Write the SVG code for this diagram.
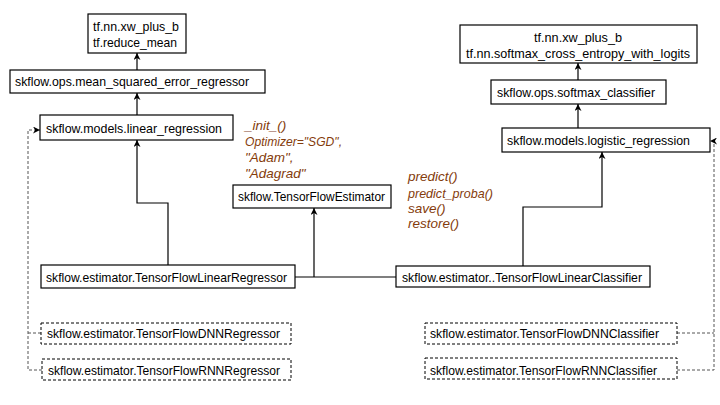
<svg xmlns="http://www.w3.org/2000/svg" width="720" height="405" viewBox="0 0 720 405">
<style>
.b{fill:#fff;stroke:#000;stroke-width:1.2}
.d{fill:#fff;stroke:#000;stroke-width:1;stroke-dasharray:3,2}
.t{font-family:"Liberation Sans",Arial,sans-serif;font-size:13.5px;fill:#000}
.i{font-family:"Liberation Sans",Arial,sans-serif;font-size:13.5px;font-style:italic;fill:#843C0C}
.c{fill:none;stroke:#000;stroke-width:1.2}
.cd{fill:none;stroke:#555;stroke-width:1;stroke-dasharray:3,2}
</style>
<defs>
<marker id="a" viewBox="0 0 10 10" refX="10" refY="5" markerWidth="7" markerHeight="7" orient="auto" markerUnits="userSpaceOnUse">
<path d="M0,0 L10,5 L0,10 L3,5 z" fill="#000"/>
</marker>
</defs>
<rect width="720" height="405" fill="#fff"/>
<g id="connectors">
<line class="c" x1="137" y1="70" x2="137" y2="53" marker-end="url(#a)"/>
<line class="c" x1="137" y1="115" x2="137" y2="93" marker-end="url(#a)"/>
<polyline class="c" points="168,265 168,203 137,203 137,140" marker-end="url(#a)"/>
<line class="c" x1="578" y1="80" x2="578" y2="63" marker-end="url(#a)"/>
<line class="c" x1="578" y1="128" x2="578" y2="104" marker-end="url(#a)"/>
<polyline class="c" points="523,266 523,207 602,207 602,152" marker-end="url(#a)"/>
<line class="c" x1="295" y1="277" x2="396" y2="277"/>
<line class="c" x1="314" y1="277" x2="314" y2="208" marker-end="url(#a)"/>
<polyline class="cd" points="41,333 28,333"/>
<polyline class="cd" points="42,370 28,370 28,130 40,130" marker-end="url(#a)"/>
<polyline class="cd" points="677,333 714,333"/>
<polyline class="cd" points="677,370 714,370 714,141 710,141" marker-end="url(#a)"/>
</g>
<g id="n_tf_reg">
<rect class="b" x="88" y="14" width="98" height="39"/>
<text class="t" x="93" y="31" textLength="86" lengthAdjust="spacingAndGlyphs">tf.nn.xw_plus_b</text>
<text class="t" x="93" y="47" textLength="84" lengthAdjust="spacingAndGlyphs">tf.reduce_mean</text>
</g>
<g id="n_mse">
<rect class="b" x="10" y="70" width="255" height="23"/>
<text class="t" x="15" y="86" textLength="234" lengthAdjust="spacingAndGlyphs">skflow.ops.mean_squared_error_regressor</text>
</g>
<g id="n_linreg">
<rect class="b" x="40" y="115" width="193" height="25"/>
<text class="t" x="46" y="133" textLength="176" lengthAdjust="spacingAndGlyphs">skflow.models.linear_regression</text>
</g>
<g id="n_notes_init">
<text class="i" x="245" y="130">_init_()</text>
<text class="i" x="245" y="146" textLength="97" lengthAdjust="spacingAndGlyphs">Optimizer="SGD",</text>
<text class="i" x="245" y="162">"Adam",</text>
<text class="i" x="245" y="178">"Adagrad"</text>
</g>
<g id="n_tf_cls">
<rect class="b" x="460" y="25" width="237" height="38"/>
<text class="t" x="578" y="42" text-anchor="middle" textLength="88" lengthAdjust="spacingAndGlyphs">tf.nn.xw_plus_b</text>
<text class="t" x="578" y="58" text-anchor="middle" textLength="224" lengthAdjust="spacingAndGlyphs">tf.nn.softmax_cross_entropy_with_logits</text>
</g>
<g id="n_softmax">
<rect class="b" x="491" y="80" width="175" height="24"/>
<text class="t" x="497" y="97" textLength="158" lengthAdjust="spacingAndGlyphs">skflow.ops.softmax_classifier</text>
</g>
<g id="n_logreg">
<rect class="b" x="502" y="128" width="208" height="24"/>
<text class="t" x="507" y="145" textLength="183" lengthAdjust="spacingAndGlyphs">skflow.models.logistic_regression</text>
</g>
<g id="n_notes_predict">
<text class="i" x="408" y="181">predict()</text>
<text class="i" x="408" y="198" textLength="85" lengthAdjust="spacingAndGlyphs">predict_proba()</text>
<text class="i" x="408" y="213">save()</text>
<text class="i" x="408" y="228">restore()</text>
</g>
<g id="n_estimator">
<rect class="b" x="233" y="185" width="158" height="23"/>
<text class="t" x="238" y="201" textLength="147" lengthAdjust="spacingAndGlyphs">skflow.TensorFlowEstimator</text>
</g>
<g id="n_linregressor">
<rect class="b" x="41" y="265" width="254" height="23"/>
<text class="t" x="46" y="282" textLength="241" lengthAdjust="spacingAndGlyphs">skflow.estimator.TensorFlowLinearRegressor</text>
</g>
<g id="n_linclassifier">
<rect class="b" x="396" y="266" width="254" height="21"/>
<text class="t" x="402" y="282" textLength="240" lengthAdjust="spacingAndGlyphs">skflow.estimator..TensorFlowLinearClassifier</text>
</g>
<g id="n_dnnreg">
<rect class="d" x="41" y="323" width="250" height="21"/>
<text class="t" x="47" y="338" textLength="233" lengthAdjust="spacingAndGlyphs">skflow.estimator.TensorFlowDNNRegressor</text>
</g>
<g id="n_rnnreg">
<rect class="d" x="42" y="359" width="249" height="21"/>
<text class="t" x="48" y="375" textLength="232" lengthAdjust="spacingAndGlyphs">skflow.estimator.TensorFlowRNNRegressor</text>
</g>
<g id="n_dnncls">
<rect class="d" x="425" y="323" width="252" height="21"/>
<text class="t" x="430" y="338" textLength="229" lengthAdjust="spacingAndGlyphs">skflow.estimator.TensorFlowDNNClassifier</text>
</g>
<g id="n_rnncls">
<rect class="d" x="425" y="358" width="252" height="21"/>
<text class="t" x="430" y="375" textLength="227" lengthAdjust="spacingAndGlyphs">skflow.estimator.TensorFlowRNNClassifier</text>
</g>
</svg>
